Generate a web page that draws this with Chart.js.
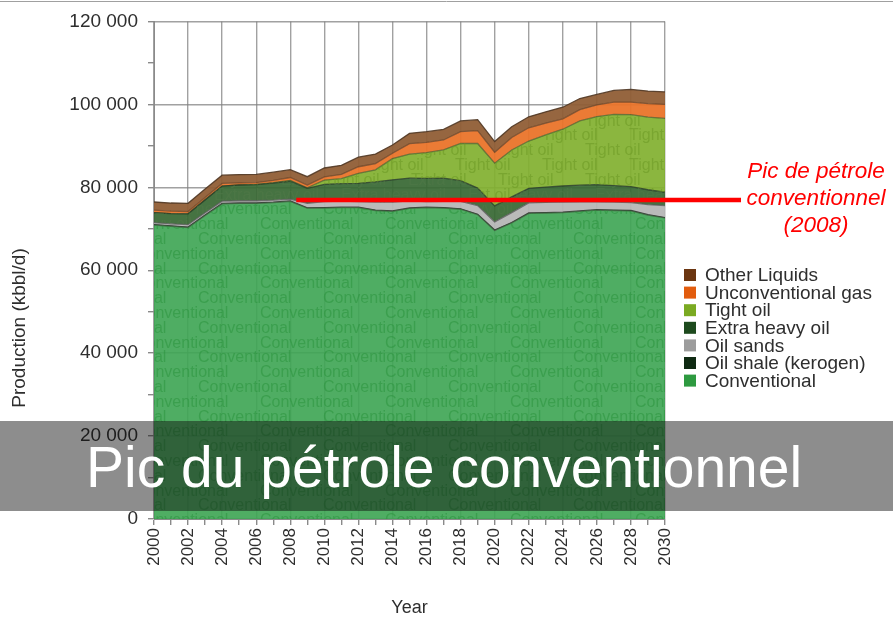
<!DOCTYPE html>
<html>
<head>
<meta charset="utf-8">
<title>Pic du pétrole conventionnel</title>
<script src="https://cdn.jsdelivr.net/npm/chart.js@4.4.1/dist/chart.umd.min.js"></script>
<style>
  html, body { margin: 0; padding: 0; background: #fff; }
  #wrap { width: 893px; height: 620px; }
</style>
</head>
<body>
<div id="wrap"><canvas id="oilChart" width="893" height="620"></canvas></div>
<script>
// production (kbbl/d)
const years = [2000, 2001, 2002, 2003, 2004, 2005, 2006, 2007, 2008, 2009, 2010,
  2011, 2012, 2013, 2014, 2015, 2016, 2017, 2018, 2019, 2020,
  2021, 2022, 2023, 2024, 2025, 2026, 2027, 2028, 2029, 2030];

const conventional = [70900, 70600, 70300, 73200, 76000, 76100, 76100, 76300, 76600, 74950, 75000,
  75100, 75100, 74400, 74200, 74900, 75100, 75000, 74700, 73400, 69600,
  71400, 73700, 73800, 73900, 74200, 74500, 74400, 74300, 73300, 72600];
const oilShale = [100, 100, 100, 100, 100, 100, 100, 100, 100, 100, 100,
  100, 100, 100, 100, 100, 100, 100, 100, 100, 100,
  100, 100, 100, 100, 100, 100, 100, 100, 100, 100];
const oilSands = [450, 480, 570, 560, 550, 550, 550, 500, 450, 1100, 1450,
  1450, 1350, 1900, 2100, 1700, 1350, 1500, 1800, 2100, 1960,
  2400, 2450, 2450, 2450, 2200, 1900, 1900, 1900, 2400, 2900];
const extraHeavy = [2400, 2450, 2620, 3100, 3650, 3800, 3900, 4100, 4300, 3600, 4150,
  4250, 4400, 4900, 5400, 5500, 5600, 5600, 5000, 4200, 3840,
  3800, 3500, 3700, 3850, 4000, 4150, 4000, 3850, 3600, 3200];
const tightOil = [0, 0, 0, 0, 0, 0, 50, 100, 200, 100, 1000,
  1200, 2400, 2900, 5100, 5800, 6200, 6800, 9000, 10750, 10300,
  11300, 11400, 12600, 13700, 15500, 16400, 17200, 17350, 17500, 17800];
const unconvGas = [650, 620, 550, 600, 620, 500, 400, 550, 700, 700, 800,
  1000, 1600, 1500, 1300, 2500, 2500, 2400, 2800, 3100, 2640,
  3000, 3200, 2800, 2500, 2700, 2800, 2950, 3050, 3250, 3400];
const otherLiquids = [1950, 1950, 1990, 2000, 2000, 2000, 2000, 2000, 1900, 2000, 2150,
  2200, 2300, 2300, 2000, 2500, 2550, 2550, 2600, 2650, 2570,
  2600, 2650, 2750, 2800, 2700, 2550, 2800, 3050, 3050, 3000];

const peakYear = 2008;
const peakValue = 76900;

const FONT = '"Liberation Sans", Arial, sans-serif';
const TEXT = '#2e2e2e';

const spaced = (v) => String(v).replace(/\B(?=(\d{3})+(?!\d))/g, ' ');
const pts = (arr) => arr.map((v, i) => ({ x: years[i], y: v }));

function layer(label, data, fill, border, swatch, tile) {
  return {
    label: label,
    data: pts(data),
    backgroundColor: fill,
    borderColor: border,
    borderWidth: 1.3,
    pointRadius: 0,
    tension: 0,
    fill: label === 'Conventional' ? 'origin' : '-1',
    swatch: swatch,
    tile: tile,
  };
}

// repeated labels printed inside the areas
const areaLabels = {
  id: 'areaLabels',
  afterDatasetsDraw(chart) {
    const { ctx, chartArea } = chart;
    const base = chart.scales.y.getPixelForValue(0);
    chart.data.datasets.forEach((ds, di) => {
      if (!ds.tile) return;
      const top = chart.getDatasetMeta(di).data;
      const bottom = di > 0 ? chart.getDatasetMeta(di - 1).data : null;
      ctx.save();
      ctx.beginPath();
      top.forEach((p, i) => (i ? ctx.lineTo(p.x, p.y) : ctx.moveTo(p.x, p.y)));
      for (let i = top.length - 1; i >= 0; i--) {
        ctx.lineTo(top[i].x, bottom ? bottom[i].y : base);
      }
      ctx.closePath();
      ctx.clip();
      ctx.font = ds.tile.font + ' ' + FONT;
      ctx.fillStyle = ds.tile.color;
      ctx.textBaseline = 'middle';
      let row = 0;
      for (let y = chartArea.top + ds.tile.phase; y < chartArea.bottom + 10; y += ds.tile.gap, row++) {
        const shift = row % 2 ? ds.tile.offA : ds.tile.offB;
        for (let x = chartArea.left + shift - ds.tile.period; x < chartArea.right; x += ds.tile.period) {
          ctx.fillText(ds.tile.text, x, y);
        }
      }
      ctx.restore();
    });
  },
};

const overlay = {
  id: 'overlay',
  afterDraw(chart) {
    const { ctx, chartArea } = chart;
    const xs = chart.scales.x, ys = chart.scales.y;
    ctx.save();

    // frame line at the very top
    ctx.strokeStyle = '#a0a0a0';
    ctx.lineWidth = 1;
    ctx.beginPath();
    ctx.moveTo(0, 1.5);
    ctx.lineTo(chart.width, 1.5);
    ctx.stroke();

    // y axis title
    ctx.save();
    ctx.translate(20, 328);
    ctx.rotate(-Math.PI / 2);
    ctx.font = '19px ' + FONT;
    ctx.fillStyle = TEXT;
    ctx.textAlign = 'center';
    ctx.textBaseline = 'middle';
    ctx.fillText('Production (kbbl/d)', 0, 0);
    ctx.restore();

    // legend, top item = last layer
    ctx.font = '19px ' + FONT;
    ctx.textBaseline = 'middle';
    ctx.textAlign = 'left';
    const items = chart.data.datasets.slice().reverse();
    items.forEach((ds, i) => {
      const y = 275 + i * 17.6;
      ctx.fillStyle = ds.swatch;
      ctx.fillRect(684, y - 6, 12, 12);
      ctx.fillStyle = TEXT;
      ctx.fillText(ds.label, 705, y + 1);
    });

    // peak marker
    const py = ys.getPixelForValue(peakValue);
    ctx.strokeStyle = '#ff0000';
    ctx.lineWidth = 4.5;
    ctx.beginPath();
    ctx.moveTo(xs.getPixelForValue(peakYear) + 6, py);
    ctx.lineTo(chartArea.right + 76, py);
    ctx.stroke();
    ctx.fillStyle = '#ff0000';
    ctx.font = 'italic 22.5px ' + FONT;
    ctx.textAlign = 'center';
    ctx.textBaseline = 'middle';
    ctx.fillText('Pic de pétrole', 816, 172);
    ctx.fillText('conventionnel', 816, 199);
    ctx.fillText('(2008)', 816, 226);

    // title banner
    ctx.fillStyle = 'rgba(12,12,12,0.47)';
    ctx.fillRect(0, 421, chart.width, 90);
    ctx.fillStyle = '#ffffff';
    ctx.font = '57px ' + FONT;
    ctx.textAlign = 'left';
    ctx.textBaseline = 'alphabetic';
    ctx.fillText('Pic du pétrole conventionnel', 86, 487);
    ctx.restore();
  },
};

new Chart(document.getElementById('oilChart'), {
  type: 'line',
  data: {
    datasets: [
      layer('Conventional', conventional, 'rgba(64,166,86,0.92)', 'rgba(60,90,60,0.7)', '#2e9a40',
        { text: 'Conventional', font: '16px', color: 'rgba(40,145,58,0.5)', gap: 14.8, phase: 11, period: 125, offA: 106, offB: 44 }),
      layer('Oil shale (kerogen)', oilShale, 'rgba(30,45,30,0.95)', 'rgba(40,40,40,0.8)', '#0f2a12', null),
      layer('Oil sands', oilSands, 'rgba(182,182,182,0.95)', 'rgba(90,90,90,0.8)', '#9c9c9c', null),
      layer('Extra heavy oil', extraHeavy, 'rgba(56,104,52,0.93)', 'rgba(40,60,40,0.8)', '#1d4a1d',
        { text: 'Extra heavy oil', font: '16px', color: 'rgba(80,120,72,0.6)', gap: 14.8, phase: 11, period: 127, offA: 60, offB: 0 }),
      layer('Tight oil', tightOil, 'rgba(130,176,48,0.93)', 'rgba(70,90,40,0.7)', '#7aaa22',
        { text: 'Tight oil', font: '16px', color: 'rgba(110,155,38,0.6)', gap: 14.8, phase: 11, period: 87, offA: 40, offB: 83 }),
      layer('Unconventional gas', unconvGas, 'rgba(234,116,42,0.95)', 'rgba(110,70,40,0.8)', '#e25c0e', null),
      layer('Other Liquids', otherLiquids, 'rgba(144,94,54,0.95)', 'rgba(80,55,35,0.9)', '#6b3510', null),
    ],
  },
  options: {
    responsive: false,
    animation: false,
    devicePixelRatio: 1,
    layout: { padding: { left: 0, right: 228, top: 19, bottom: 0 } },
    plugins: {
      legend: { display: false },
      tooltip: { enabled: false },
    },
    scales: {
      x: {
        type: 'linear',
        min: 2000,
        max: 2030,
        afterFit: (scale) => { scale.height = 101; },
        border: { color: '#8a8a8a', width: 1 },
        grid: {
          color: (c) => (c.tick && c.tick.value % 2 === 0 ? 'rgba(130,130,130,0.75)' : 'transparent'),
          lineWidth: 1.4,
          tickColor: '#8a8a8a',
          tickLength: 6,
        },
        ticks: {
          stepSize: 1,
          autoSkip: false,
          minRotation: 90,
          maxRotation: 90,
          padding: 3,
          color: TEXT,
          font: { family: FONT, size: 17 },
          callback: (v) => (v % 2 === 0 ? String(v) : ''),
        },
        title: {
          display: true,
          text: 'Year',
          color: TEXT,
          font: { family: FONT, size: 18 },
          padding: { top: 0, bottom: 1 },
        },
      },
      y: {
        stacked: true,
        min: 0,
        max: 120000,
        afterFit: (scale) => { scale.width = 154; },
        border: { color: '#8a8a8a', width: 1 },
        grid: {
          color: (c) => (c.tick && c.tick.value % 20000 === 0 ? 'rgba(130,130,130,0.75)' : 'transparent'),
          lineWidth: 1.4,
          tickColor: '#8a8a8a',
          tickLength: 6,
        },
        ticks: {
          stepSize: 10000,
          padding: 10,
          color: TEXT,
          font: { family: FONT, size: 19 },
          callback: (v) => (v % 20000 === 0 ? spaced(v) : ''),
        },
      },
    },
  },
  plugins: [areaLabels, overlay],
});
</script>
</body>
</html>
